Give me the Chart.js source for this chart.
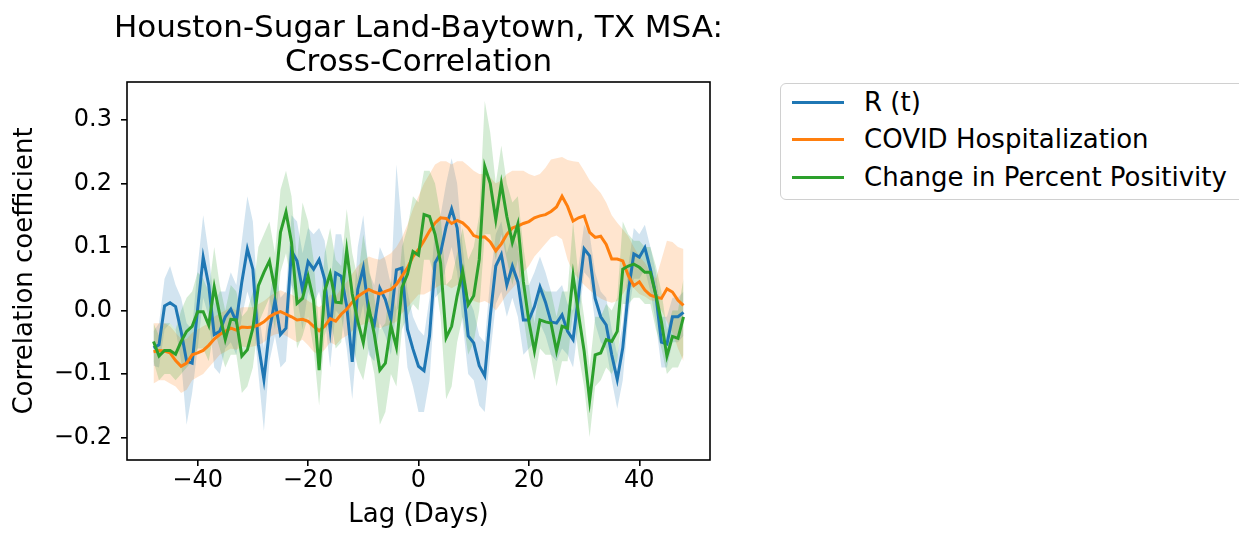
<!DOCTYPE html>
<html lang="en">
<head>
  <meta charset="UTF-8">
  <title>Houston-Sugar Land-Baytown, TX MSA: Cross-Correlation</title>
  <script src="https://cdn.jsdelivr.net/npm/chart.js"></script>
  <style>
    body {
      margin: 0;
      background: #ffffff;
      font-family: 'DejaVu Sans', sans-serif;
    }

    .wrap {
      position: relative;
      width: 1239px;
      height: 533px;
      overflow: hidden;
    }

    canvas {
      position: absolute;
      left: 0;
      top: 0;
    }

    .title {
      position: absolute;
      left: 0;
      width: 837px;
      top: 9px;
      text-align: center;
      font-size: 31px;
      line-height: 34px;
      color: #000;
      white-space: nowrap;
    }

    .legend {
      position: absolute;
      left: 780px;
      top: 83px;
      width: 470px;
      height: 117px;
      box-sizing: border-box;
      border: 1.3px solid #d0d0d0;
      border-radius: 6px;
      background: #fff;
    }

    .legend .row {
      position: absolute;
      left: 0;
      height: 30px;
      width: 100%;
    }

    .legend .handle {
      position: absolute;
      left: 11px;
      top: 13.5px;
      width: 52px;
      height: 3px;
    }

    .legend .label {
      position: absolute;
      left: 83px;
      top: 0;
      font-size: 26px;
      line-height: 30px;
      color: #000;
      white-space: nowrap;
    }
  </style>
</head>
<body>

<div class="wrap">
  <canvas id="xcorrChart" width="1239" height="533"></canvas>
  <div class="title">Houston-Sugar Land-Baytown, TX MSA:<br>Cross-Correlation</div>
  <div class="legend" id="legend"></div>
</div>

<script>
  // lag in days
  const lags = [
    -48, -47, -46, -45, -44, -43, -42, -41, -40, -39,
    -38, -37, -36, -35, -34, -33, -32, -31, -30, -29,
    -28, -27, -26, -25, -24, -23, -22, -21, -20, -19,
    -18, -17, -16, -15, -14, -13, -12, -11, -10, -9,
    -8, -7, -6, -5, -4, -3, -2, -1, 0, 1,
    2, 3, 4, 5, 6, 7, 8, 9, 10, 11,
    12, 13, 14, 15, 16, 17, 18, 19, 20, 21,
    22, 23, 24, 25, 26, 27, 28, 29, 30, 31,
    32, 33, 34, 35, 36, 37, 38, 39, 40, 41,
    42, 43, 44, 45, 46, 47, 48
  ];

  const seriesNames = ['R (t)', 'COVID Hospitalization', 'Change in Percent Positivity'];
  const xTicks = [-40, -20, 0, 20, 40];
  const yTicks = [-0.2, -0.1, 0.0, 0.1, 0.2, 0.3];

  // R (t)
  const rt = [
    -0.059, -0.054, 0.007, 0.012, 0.006, -0.033, -0.080, -0.083, 0.003, 0.084,
    0.040, -0.038, -0.033, -0.010, 0.002, -0.018, 0.045, 0.097, 0.065, -0.054,
    -0.109, -0.031, 0.016, -0.038, -0.028, 0.094, 0.078, 0.032, 0.077, 0.065,
    0.080, 0.049, -0.030, 0.059, 0.054, 0.007, -0.081, 0.033, 0.067, -0.004,
    -0.022, 0.035, 0.017, -0.014, 0.064, 0.067, -0.030, -0.061, -0.088, -0.095,
    -0.040, 0.075, 0.091, 0.132, 0.160, 0.130, 0.043, -0.040, -0.051, -0.087,
    -0.103, -0.009, 0.070, 0.088, 0.040, 0.070, 0.045, -0.015, -0.015, 0.006,
    0.037, 0.013, -0.018, -0.020, -0.007, -0.033, -0.046, 0.024, 0.097, 0.086,
    0.019, -0.010, -0.023, -0.070, -0.109, -0.059, 0.029, 0.089, 0.084, 0.099,
    0.065, 0.024, -0.050, -0.053, -0.010, -0.010, -0.003
  ];
  const rtHigh = [
    -0.033, -0.020, 0.050, 0.070, 0.040, 0.020, -0.020, -0.030, 0.070, 0.150,
    0.090, 0.010, 0.030, 0.030, 0.060, 0.040, 0.110, 0.180, 0.140, 0.000,
    -0.060, 0.020, 0.070, 0.020, 0.030, 0.150, 0.140, 0.090, 0.130, 0.120,
    0.130, 0.110, 0.040, 0.120, 0.120, 0.070, -0.020, 0.100, 0.150, 0.060,
    0.040, 0.100, 0.080, 0.040, 0.230, 0.130, 0.030, -0.010, -0.030, -0.040,
    0.020, 0.130, 0.150, 0.200, 0.240, 0.200, 0.100, 0.020, 0.000, -0.040,
    -0.050, 0.050, 0.120, 0.140, 0.090, 0.120, 0.100, 0.040, 0.040, 0.060,
    0.085, 0.060, 0.030, 0.030, 0.040, 0.010, 0.000, 0.070, 0.135, 0.120,
    0.060, 0.030, 0.020, -0.030, -0.070, -0.020, 0.070, 0.130, 0.120, 0.135,
    0.100, 0.060, -0.010, -0.010, 0.020, 0.020, 0.030
  ];
  const rtLow = [
    -0.087, -0.090, -0.030, -0.020, -0.030, -0.080, -0.180, -0.130, -0.060, 0.020,
    -0.010, -0.090, -0.100, -0.060, -0.050, -0.070, -0.010, 0.030, 0.000, -0.100,
    -0.190, -0.080, -0.040, -0.090, -0.080, 0.040, 0.020, -0.030, 0.030, 0.010,
    0.030, -0.010, -0.090, 0.000, -0.010, -0.060, -0.140, -0.030, 0.010, -0.070,
    -0.080, -0.020, -0.040, -0.070, 0.000, 0.010, -0.090, -0.120, -0.160, -0.160,
    -0.110, 0.020, 0.030, 0.070, 0.100, 0.060, -0.020, -0.100, -0.110, -0.150,
    -0.160, -0.070, 0.010, 0.030, -0.010, 0.020, -0.010, -0.070, -0.060, -0.050,
    -0.020, -0.040, -0.070, -0.080, -0.060, -0.070, -0.090, -0.020, 0.060, 0.050,
    -0.020, -0.050, -0.060, -0.110, -0.155, -0.110, -0.010, 0.050, 0.050, 0.065,
    0.030, -0.020, -0.090, -0.090, -0.050, -0.050, -0.040
  ];

  // COVID Hospitalization
  const hosp = [
    -0.065, -0.063, -0.064, -0.067, -0.079, -0.088, -0.083, -0.070, -0.067, -0.063,
    -0.055, -0.045, -0.038, -0.033, -0.028, -0.031, -0.026, -0.027, -0.026, -0.023,
    -0.018, -0.010, -0.005, -0.002, -0.006, -0.010, -0.015, -0.014, -0.017, -0.025,
    -0.032, -0.025, -0.013, -0.017, -0.006, 0.002, 0.013, 0.022, 0.028, 0.033,
    0.029, 0.026, 0.030, 0.033, 0.041, 0.054, 0.067, 0.085, 0.096, 0.110,
    0.125, 0.138, 0.146, 0.145, 0.137, 0.142, 0.138, 0.130, 0.118, 0.115,
    0.116, 0.108, 0.094, 0.105, 0.120, 0.130, 0.133, 0.137, 0.140, 0.146,
    0.149, 0.151, 0.156, 0.163, 0.180, 0.164, 0.141, 0.146, 0.149, 0.123,
    0.115, 0.117, 0.104, 0.081, 0.081, 0.078, 0.055, 0.039, 0.045, 0.032,
    0.024, 0.021, 0.019, 0.034, 0.029, 0.016, 0.008
  ];
  const hospHigh = [
    -0.020, -0.020, -0.020, -0.025, -0.035, -0.045, -0.045, -0.035, -0.030, -0.025,
    -0.020, -0.010, -0.005, 0.000, 0.005, 0.000, 0.005, 0.005, 0.005, 0.010,
    0.015, 0.022, 0.028, 0.032, 0.028, 0.025, 0.020, 0.022, 0.015, 0.010,
    0.005, 0.012, 0.025, 0.022, 0.035, 0.045, 0.058, 0.070, 0.078, 0.085,
    0.082, 0.080, 0.085, 0.090, 0.100, 0.115, 0.135, 0.160, 0.180, 0.200,
    0.215, 0.230, 0.235, 0.235, 0.230, 0.235, 0.235, 0.228, 0.220, 0.215,
    0.215, 0.210, 0.200, 0.205, 0.215, 0.220, 0.220, 0.220, 0.215, 0.212,
    0.215, 0.225, 0.238, 0.240, 0.242, 0.237, 0.235, 0.234, 0.220, 0.205,
    0.195, 0.185, 0.170, 0.150, 0.138, 0.128, 0.117, 0.100, 0.085, 0.075,
    0.060, 0.050, 0.080, 0.110, 0.108, 0.100, 0.097
  ];
  const hospLow = [
    -0.115, -0.110, -0.110, -0.115, -0.120, -0.130, -0.125, -0.110, -0.105, -0.100,
    -0.090, -0.080, -0.070, -0.065, -0.060, -0.062, -0.057, -0.058, -0.057, -0.055,
    -0.050, -0.042, -0.038, -0.036, -0.040, -0.045, -0.050, -0.046, -0.055, -0.065,
    -0.070, -0.062, -0.050, -0.055, -0.045, -0.040, -0.032, -0.025, -0.022, -0.018,
    -0.025, -0.028, -0.025, -0.022, -0.018, -0.005, 0.005, 0.015, 0.025, 0.025,
    0.030, 0.035, 0.040, 0.040, 0.035, 0.040, 0.035, 0.025, 0.015, 0.012,
    0.015, 0.010, 0.000, 0.012, 0.025, 0.035, 0.045, 0.060, 0.070, 0.085,
    0.095, 0.105, 0.115, 0.118, 0.112, 0.080, 0.060, 0.050, 0.040, 0.032,
    0.025, 0.019, 0.015, 0.012, 0.015, 0.025, 0.040, 0.035, 0.026, 0.022,
    0.016, 0.014, 0.000, -0.018, -0.035, -0.060, -0.080
  ];

  // Change in Percent Positivity
  const pos = [
    -0.049, -0.072, -0.063, -0.063, -0.069, -0.049, -0.033, -0.025, -0.002, -0.002,
    -0.023, 0.037, -0.007, -0.046, -0.014, -0.015, -0.072, -0.062, -0.028, 0.039,
    0.060, 0.078, 0.032, 0.123, 0.155, 0.107, 0.011, 0.019, 0.054, 0.016,
    -0.094, 0.030, 0.058, 0.013, 0.012, 0.095, 0.026, -0.017, -0.051, 0.005,
    -0.038, -0.094, -0.083, -0.024, -0.058, 0.036, 0.057, 0.093, 0.087, 0.151,
    0.148, 0.120, 0.075, -0.043, -0.025, 0.023, 0.062, 0.009, 0.023, 0.080,
    0.227, 0.200, 0.143, 0.200, 0.148, 0.107, 0.136, 0.045, -0.018, -0.064,
    -0.015, -0.018, -0.020, -0.064, -0.025, -0.028, 0.055, -0.007, -0.064, -0.142,
    -0.070, -0.067, -0.046, -0.049, -0.033, 0.065, 0.070, 0.073, 0.068, 0.060,
    0.060, 0.024, -0.018, -0.072, -0.041, -0.044, -0.010
  ];
  const posHigh = [
    -0.020, -0.040, -0.020, -0.020, -0.030, 0.000, 0.020, 0.030, 0.060, 0.050,
    0.030, 0.100, 0.040, 0.000, 0.040, 0.030, -0.010, 0.000, 0.030, 0.100,
    0.120, 0.140, 0.090, 0.190, 0.220, 0.180, 0.080, 0.170, 0.140, 0.080,
    -0.030, 0.090, 0.130, 0.080, 0.070, 0.160, 0.090, 0.050, 0.120, 0.070,
    0.020, -0.030, -0.020, 0.050, 0.000, 0.100, 0.130, 0.180, 0.170, 0.220,
    0.220, 0.200, 0.150, 0.040, 0.050, 0.090, 0.130, 0.080, 0.100, 0.150,
    0.330, 0.280, 0.200, 0.260, 0.200, 0.170, 0.180, 0.100, 0.040, -0.020,
    0.040, 0.030, 0.030, -0.010, 0.030, 0.030, 0.140, 0.050, -0.010, -0.090,
    -0.010, -0.010, 0.010, 0.000, 0.020, 0.140, 0.120, 0.110, 0.110, 0.100,
    0.100, 0.070, 0.030, -0.030, 0.000, 0.000, 0.050
  ];
  const posLow = [
    -0.080, -0.110, -0.100, -0.100, -0.110, -0.100, -0.090, -0.080, -0.060, -0.060,
    -0.080, -0.030, -0.060, -0.090, -0.070, -0.070, -0.130, -0.120, -0.090, -0.020,
    0.000, 0.020, -0.030, 0.060, 0.090, 0.040, -0.060, -0.040, -0.010, -0.060,
    -0.150, -0.040, -0.010, -0.060, -0.050, 0.030, -0.050, -0.090, -0.110, -0.060,
    -0.100, -0.180, -0.160, -0.100, -0.120, -0.030, -0.010, 0.010, 0.000, 0.080,
    0.080, 0.050, -0.010, -0.140, -0.120, -0.050, -0.010, -0.070, -0.050, 0.000,
    0.120, 0.120, 0.080, 0.120, 0.080, 0.040, 0.080, -0.010, -0.070, -0.110,
    -0.060, -0.070, -0.070, -0.120, -0.080, -0.080, 0.000, -0.070, -0.120, -0.200,
    -0.120, -0.110, -0.090, -0.100, -0.080, 0.010, 0.010, 0.020, 0.020, 0.010,
    0.010, -0.030, -0.060, -0.100, -0.090, -0.090, -0.070
  ];

  const colors = ['#1f77b4', '#ff7f0e', '#2ca02c'];
  const bandColors = ['rgba(31,119,180,0.2)', 'rgba(255,127,14,0.2)', 'rgba(44,160,44,0.2)'];

  const pts = ys => lags.map((x, i) => ({ x: x, y: ys[i] }));
  const minus = s => s.replace('-', '\u2212');

  // band = upper edge (invisible) + lower edge filled to it
  function band(high, low, i) {
    return [
      { data: pts(high), borderWidth: 0, pointRadius: 0, fill: false, order: 30 - i },
      { data: pts(low), borderWidth: 0, pointRadius: 0, fill: '-1', backgroundColor: bandColors[i], order: 30 - i }
    ];
  }

  function line(ys, i) {
    return { data: pts(ys), borderColor: colors[i], borderWidth: 3, pointRadius: 0, fill: false, order: 3 - i };
  }

  // matplotlib style box around the axes
  const framePlugin = {
    id: 'frame',
    afterDatasetsDraw(chart) {
      const { ctx, chartArea: a } = chart;
      ctx.save();
      ctx.strokeStyle = '#000';
      ctx.lineWidth = 1.6;
      ctx.strokeRect(a.left, a.top, a.right - a.left, a.bottom - a.top);
      ctx.restore();
    }
  };

  const tickFont = { family: 'DejaVu Sans', size: 24 };
  const labelFont = { family: 'DejaVu Sans', size: 26 };
  const tickGrid = { display: true, drawOnChartArea: false, drawTicks: true, tickLength: 6, color: '#000', lineWidth: 1.6 };

  new Chart(document.getElementById('xcorrChart'), {
    type: 'line',
    data: {
      datasets: [
        ...band(rtHigh, rtLow, 0),
        ...band(hospHigh, hospLow, 1),
        ...band(posHigh, posLow, 2),
        line(rt, 0),
        line(hosp, 1),
        line(pos, 2)
      ]
    },
    options: {
      responsive: false,
      animation: false,
      layout: { padding: { left: 0, top: 82, right: 529, bottom: 0 } },
      plugins: {
        legend: { display: false },
        tooltip: { enabled: false }
      },
      scales: {
        x: {
          type: 'linear',
          min: -52.8,
          max: 52.8,
          afterBuildTicks: s => { s.ticks = xTicks.map(v => ({ value: v })); },
          afterFit: s => { s.height = 73; },
          ticks: { font: tickFont, color: '#000', padding: 0, callback: v => minus(String(v)) },
          grid: tickGrid,
          border: { display: false },
          title: { display: true, text: 'Lag (Days)', font: labelFont, color: '#000', padding: { top: 0, bottom: 2 } }
        },
        y: {
          min: -0.2357,
          max: 0.36,
          afterBuildTicks: s => { s.ticks = yTicks.map(v => ({ value: v })); },
          afterFit: s => { s.width = 127; },
          ticks: { font: tickFont, color: '#000', padding: 9, callback: v => minus(v.toFixed(1)) },
          grid: tickGrid,
          border: { display: false },
          title: { display: true, text: 'Correlation coefficient', font: labelFont, color: '#000', padding: { top: 10, bottom: 0 } }
        }
      }
    },
    plugins: [framePlugin]
  });

  // legend box to the right of the axes
  const legend = document.getElementById('legend');
  const rowTops = [3, 40, 78];
  seriesNames.forEach((name, i) => {
    const row = document.createElement('div');
    row.className = 'row';
    row.style.top = rowTops[i] + 'px';
    row.innerHTML = '<div class="handle" style="background:' + colors[i] + '"></div>' +
      '<div class="label">' + name + '</div>';
    legend.appendChild(row);
  });
</script>

</body>
</html>
